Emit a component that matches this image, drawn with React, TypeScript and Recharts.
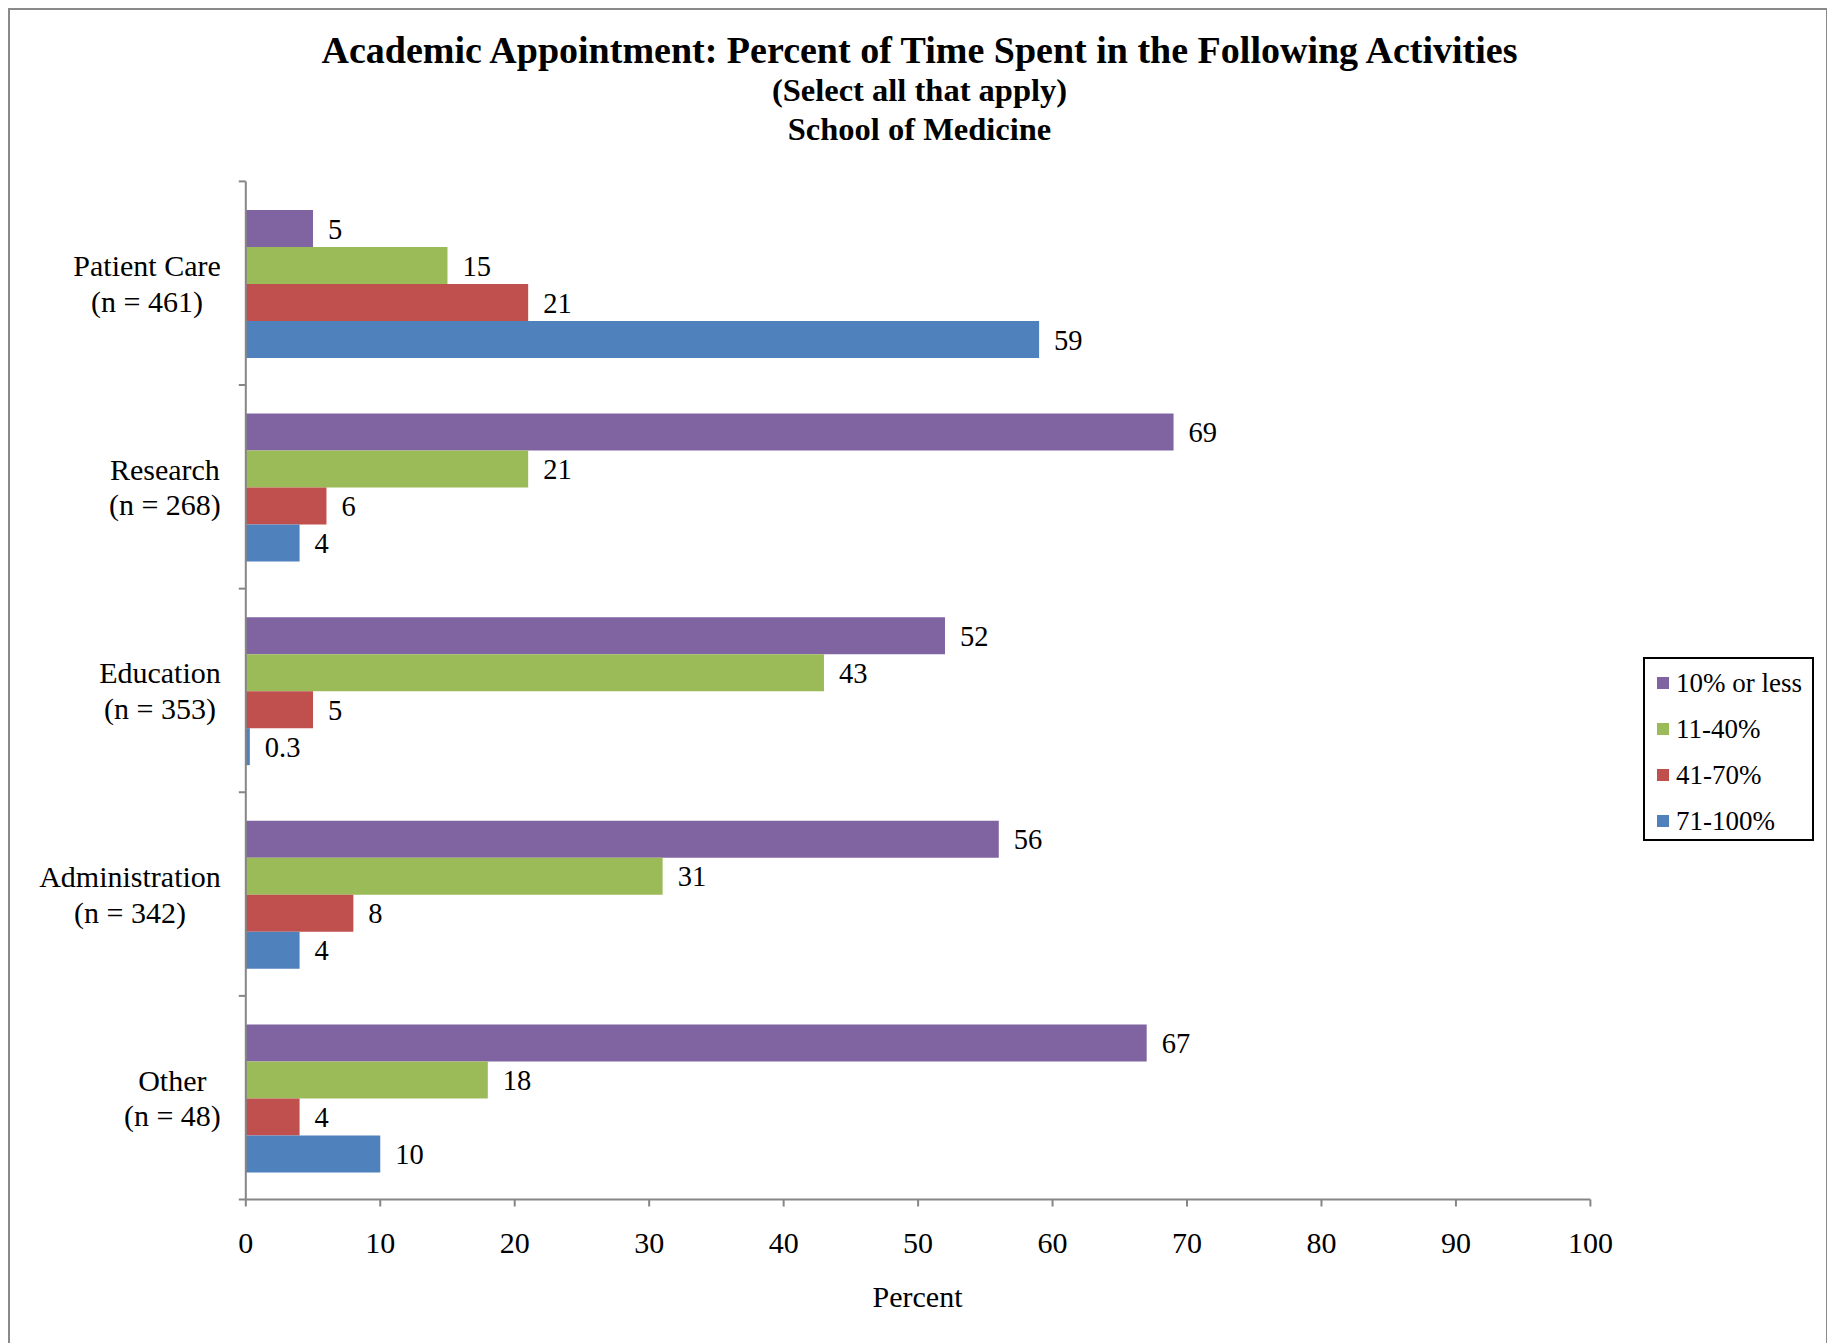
import React from 'react';
import { BarChart, Bar, XAxis, YAxis, LabelList, Legend } from 'recharts';

const categories = ['Patient Care', 'Research', 'Education', 'Administration', 'Other'];
const sampleSizes = ['(n = 461)', '(n = 268)', '(n = 353)', '(n = 342)', '(n = 48)'];
const seriesNames = ['10% or less', '11-40%', '41-70%', '71-100%'];
const tenOrLess = [5, 69, 52, 56, 67];
const elevenTo40 = [15, 21, 43, 31, 18];
const fortyOneTo70 = [21, 6, 5, 8, 4];
const seventyOneTo100 = [59, 4, 0.3, 4, 10];
const xTicks = [0, 10, 20, 30, 40, 50, 60, 70, 80, 90, 100];
const seriesColors = ['#8064A2', '#9BBB59', '#C0504D', '#4F81BD'];
const titleLines = [
  'Academic Appointment: Percent of Time Spent in the Following Activities',
  '(Select all that apply)',
  'School of Medicine',
];
const xAxisTitle = 'Percent';

const seriesKeys = ['s0', 's1', 's2', 's3'];
const seriesValues = [tenOrLess, elevenTo40, fortyOneTo70, seventyOneTo100];

const data = categories.map((name, i) => {
  const row: any = { name, n: sampleSizes[i] };
  seriesKeys.forEach((k, j) => {
    row[k] = seriesValues[j][i];
  });
  return row;
});

const FONT = '"Liberation Serif", "Times New Roman", Times, serif';
const AXIS_GREY = '#868686';
const LABEL_SIZE = 30;

let measureCtx: any = null;
function measure(text: string, font: string) {
  if (!measureCtx) measureCtx = document.createElement('canvas').getContext('2d');
  measureCtx.font = font;
  return measureCtx.measureText(text).width;
}

function CategoryTick(props: any) {
  const { x, y, payload, index } = props;
  const half = payload && typeof payload.offset === 'number' ? payload.offset : 0;
  const i = categories.indexOf(payload.value);
  const lines = [payload.value, sampleSizes[i]];
  const w = Math.max(...lines.map((l) => measure(l, `${LABEL_SIZE}px ${FONT}`)));
  const cx = x - 25 - w / 2;
  return (
    <g>
      <line x1={x - 7} x2={x} y1={y - half} y2={y - half} stroke={AXIS_GREY} strokeWidth={2} />
      {index === categories.length - 1 && (
        <line x1={x - 7} x2={x} y1={y + half} y2={y + half} stroke={AXIS_GREY} strokeWidth={2} />
      )}
      <text x={cx} y={y - 7} textAnchor="middle" fontFamily={FONT} fontSize={LABEL_SIZE} fill="#000">
        {lines[0]}
      </text>
      <text x={cx} y={y + 28.5} textAnchor="middle" fontFamily={FONT} fontSize={LABEL_SIZE} fill="#000">
        {lines[1]}
      </text>
    </g>
  );
}

function LegendBox() {
  return (
    <div
      style={{
        boxSizing: 'border-box',
        width: 171,
        height: 184,
        border: '2px solid #000',
        background: '#fff',
        paddingTop: 1,
        paddingLeft: 12,
        fontFamily: FONT,
        fontSize: 27,
        color: '#000',
      }}
    >
      {seriesNames.map((s, i) => (
        <div key={s} style={{ height: 46, display: 'flex', alignItems: 'center', whiteSpace: 'nowrap' }}>
          <span style={{ display: 'inline-block', width: 12, height: 12, background: seriesColors[i], marginRight: 7 }} />
          <span style={{ lineHeight: '30px' }}>{s}</span>
        </div>
      ))}
    </div>
  );
}

export default function App() {
  const W = 1816;
  const H = 1335;
  return (
    <div
      style={{
        position: 'relative',
        width: W,
        height: H,
        border: `2px solid #8a8a8a`,
        background: '#fff',
      }}
    >
      <BarChart
        width={W}
        height={H}
        data={data}
        layout="vertical"
        margin={{ top: 171.4, right: 235.6, bottom: 85.5, left: 0 }}
        barCategoryGap="14%"
        barGap={0}
      >
        <XAxis
          type="number"
          domain={[0, 100]}
          ticks={xTicks}
          interval={0}
          height={60}
          axisLine={{ stroke: AXIS_GREY, strokeWidth: 2 }}
          tickLine={{ stroke: AXIS_GREY, strokeWidth: 2 }}
          tickSize={7}
          tickMargin={25}
          tick={{ fontFamily: FONT, fontSize: LABEL_SIZE, fill: '#000' }}
        />
        <YAxis
          type="category"
          dataKey="name"
          width={235.8}
          axisLine={{ stroke: AXIS_GREY, strokeWidth: 2 }}
          tickLine={false}
          tickSize={0}
          tickMargin={0}
          interval={0}
          tick={<CategoryTick />}
        />
        <Legend
          layout="vertical"
          align="center"
          verticalAlign="middle"
          wrapperStyle={{ position: 'absolute', left: 1633, top: 646.5, width: 171, height: 184 }}
          content={() => <LegendBox />}
        />
        {seriesKeys.map((k, j) => (
          <Bar key={k} dataKey={k} name={seriesNames[j]} fill={seriesColors[j]} isAnimationActive={false}>
            <LabelList
              dataKey={k}
              position="right"
              offset={15}
              fill="#000"
              fontFamily={FONT}
              fontSize={28.5}
            />
          </Bar>
        ))}
      </BarChart>
      <svg
        width={W}
        height={H}
        style={{ position: 'absolute', left: 0, top: 0, pointerEvents: 'none' }}
      >
        <text x={909.5} y={52.5} textAnchor="middle" fontFamily={FONT} fontWeight="bold" fontSize={38} fill="#000">
          {titleLines[0]}
        </text>
        <text x={909.5} y={90.5} textAnchor="middle" fontFamily={FONT} fontWeight="bold" fontSize={32.5} fill="#000">
          {titleLines[1]}
        </text>
        <text x={909.5} y={129.5} textAnchor="middle" fontFamily={FONT} fontWeight="bold" fontSize={32.5} fill="#000">
          {titleLines[2]}
        </text>
        <text x={907.5} y={1297} textAnchor="middle" fontFamily={FONT} fontSize={LABEL_SIZE} fill="#000">
          {xAxisTitle}
        </text>
      </svg>
    </div>
  );
}
